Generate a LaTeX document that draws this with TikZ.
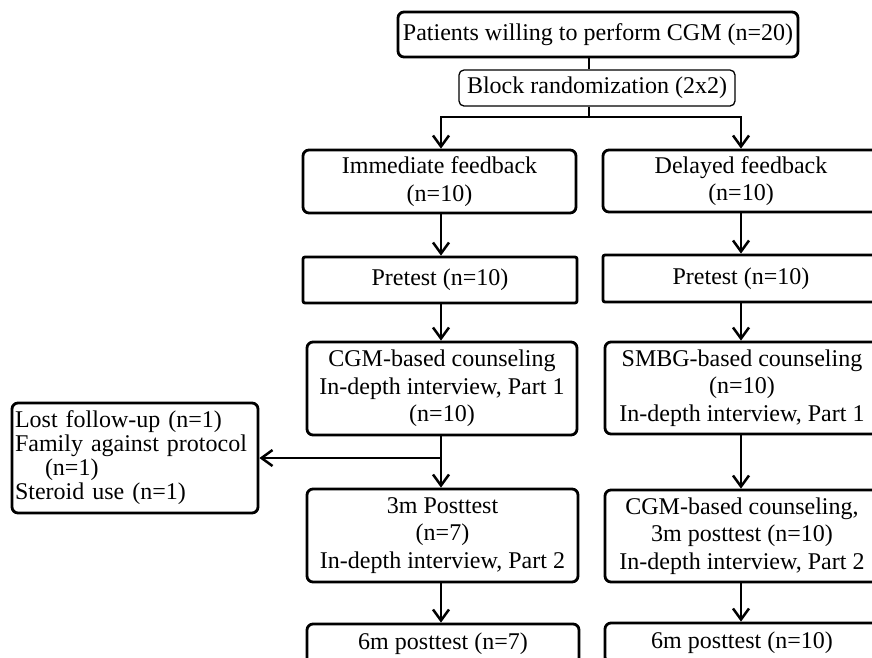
\documentclass[tikz,border=0pt]{standalone}
\usepackage{fontspec}
\setmainfont{Liberation Serif}
\usetikzlibrary{arrows.meta}
\begin{document}
\begin{tikzpicture}[x=1pt,y=-1pt,
  box/.style={draw, line width=2.8pt, rounded corners=6pt, align=center, inner sep=0pt,
    font=\fontsize{24}{27.5}\selectfont},
  thinbox/.style={box, line width=1.3pt, rounded corners=5pt},
  sqbox/.style={box, rounded corners=2pt},
  conn/.style={line width=2.5pt},
  arr/.style={conn, -{Straight Barb[length=11pt,width=16pt]}}]
\clip (0,0) rectangle (872,657);
\fill[white] (0,0) rectangle (872,657);
% nodes
\node[box, minimum width=400pt, minimum height=45pt] (top) at (598,34.5) {Patients willing to perform CGM (n=20)};
\node[thinbox, minimum width=276pt, minimum height=36pt] (block) at (597,88) {Block randomization (2x2)};
\node[box, minimum width=273pt, minimum height=63pt] (imm) at (439.5,181.5) {Immediate feedback\\(n=10)};
\node[box, minimum width=276pt, minimum height=62pt] (del) at (741,181) {Delayed feedback\\(n=10)};
\node[sqbox, minimum width=274pt, minimum height=46pt] (pre1) at (440,280) {Pretest (n=10)};
\node[sqbox, minimum width=276pt, minimum height=47pt] (pre2) at (741,278.5) {Pretest (n=10)};
\node[box, minimum width=270pt, minimum height=93pt] (cgm1) at (442,388.5) {CGM-based counseling\\In-depth interview, Part 1\\(n=10)};
\node[box, minimum width=274pt, minimum height=92pt] (smbg) at (742,388) {SMBG-based counseling\\(n=10)\\In-depth interview, Part 1};
\node[box, minimum width=246pt, minimum height=110pt, text width=240pt, align=left,
  font=\fontsize{24}{24}\selectfont] (lost) at (135,458)
  {Lost follow-up (n=1)\\Family against protocol\\\hspace*{30pt}(n=1)\\Steroid use (n=1)};
\node[box, minimum width=271pt, minimum height=93pt] (post1) at (442.5,535.5) {3m Posttest\\(n=7)\\In-depth interview, Part 2};
\node[box, minimum width=274pt, minimum height=92pt] (post2) at (742,536) {CGM-based counseling,\\3m posttest (n=10)\\In-depth interview, Part 2};
\node[box, minimum width=272pt, minimum height=40pt] (six1) at (443,644) {6m posttest (n=7)};
\node[box, minimum width=274pt, minimum height=40pt] (six2) at (742,643) {6m posttest (n=10)};
% column guides
\coordinate (S) at (589,117);
\coordinate (L) at (441,0);
\coordinate (R) at (741,0);
% connectors
\draw[conn] (top.south -| S) -- (block.north -| S);
\draw[conn] (block.south -| S) -- (S);
\draw[arr] (S) -| (imm.north -| L);
\draw[arr] (S) -| (del.north -| R);
\draw[arr] (imm.south -| L) -- (pre1.north -| L);
\draw[arr] (pre1.south -| L) -- (cgm1.north -| L);
\draw[arr] (cgm1.south -| L) -- (post1.north -| L);
\draw[arr] (lost.east -| L) -- (lost.east);
\draw[arr] (post1.south -| L) -- (six1.north -| L);
\draw[arr] (del.south -| R) -- (pre2.north -| R);
\draw[arr] (pre2.south -| R) -- (smbg.north -| R);
\draw[arr] (smbg.south -| R) -- (post2.north -| R);
\draw[arr] (post2.south -| R) -- (six2.north -| R);
\end{tikzpicture}
\end{document}
